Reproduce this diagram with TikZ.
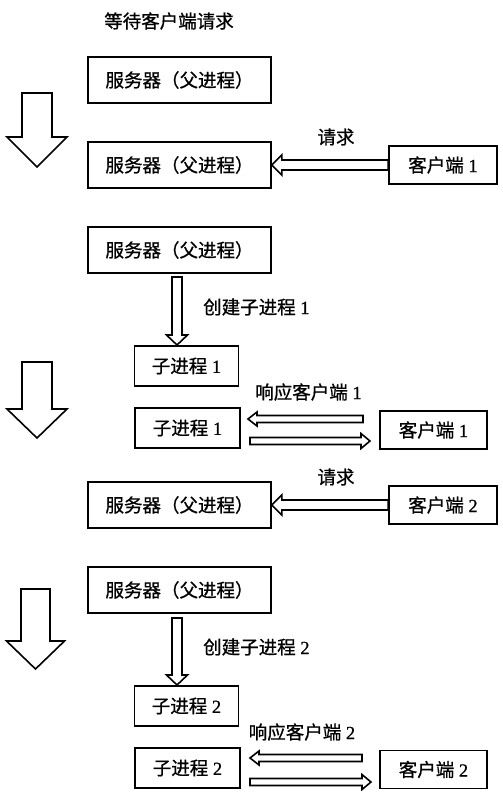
\documentclass[tikz,border=0pt]{standalone}
\usepackage{fontspec}
\setmainfont[FakeBold=0.8]{Liberation Serif}
\newfontfamily\cjk[FakeBold=0.8]{Noto Sans CJK SC}
\usetikzlibrary{calc}
\tikzset{
  txt/.style={inner sep=0pt, font=\fontsize{18.5}{20}\selectfont},
  box/.style={txt, draw, line width=1.7pt, align=center},
  sbox/.style={box, minimum width=183pt, minimum height=46pt},
  kbox/.style={box, minimum width=104pt, minimum height=40pt},
  cbox/.style={box, minimum width=108pt, minimum height=38pt},
  harrow/.style={draw, line width=1.6pt, fill=white, line join=miter},
}
\newcommand\blockarrow[5]{%
  \path ($(#2)!#5!(#1)$) coordinate (ba);
  \draw[harrow] ($(#1)!#3!90:(#2)$) -- ($(ba)!#3!90:(#2)$) -- ($(ba)!#4!90:(#2)$)
    -- (#2) -- ($(ba)!#4!-90:(#2)$) -- ($(ba)!#3!-90:(#2)$) -- ($(#1)!#3!-90:(#2)$) -- cycle;}
\begin{document}
\begin{tikzpicture}[x=1pt, y=-1pt]
\useasboundingbox[fill=white] (0,0) rectangle (503,798);

% title
\node[txt] (title) at (169,21) {\cjk 等待客户端请求};

% section 1
\node[sbox] (S1) at (179.5,80) {\cjk 服务器（父进程）};
\node[sbox] (S2) at (179.5,165) {\cjk 服务器（父进程）};
\node[cbox] (C1) at (443,165) {{\cjk 客户端} 1};
\node[txt] (q1) at (336,137) {\cjk 请求};
\blockarrow{C1.west}{S2.east}{5pt}{10pt}{10pt}
\coordinate (B1s) at (37,93); \coordinate (B1e) at (37,167);
\blockarrow{B1s}{B1e}{15pt}{30pt}{30pt}

% section 2
\node[sbox] (S3) at (179.5,250) {\cjk 服务器（父进程）};
\node[kbox] (K1) at (186.5,366) {{\cjk 子进程} 1};
\coordinate (A1s) at (177,277);
\coordinate (A1e) at (177,345);
\blockarrow{A1s}{A1e}{5pt}{10.5pt}{10pt}
\node[txt, anchor=west] (cr1) at (203,307) {{\cjk 创建子进程} 1};
\coordinate (B2s) at (37,362); \coordinate (B2e) at (37,438);
\blockarrow{B2s}{B2e}{15pt}{30pt}{29pt}
\node[txt] (r1) at (308.5,392) {{\cjk 响应客户端} 1};
\node[kbox, minimum width=105pt] (K1b) at (187.5,428) {{\cjk 子进程} 1};
\node[cbox, minimum width=107pt] (C1b) at (433.5,430) {{\cjk 客户端} 1};
\coordinate (L1s) at (363,419); \coordinate (L1e) at (248,419);
\blockarrow{L1s}{L1e}{3.5pt}{7pt}{9pt}
\coordinate (R1s) at (250,441); \coordinate (R1e) at (370,441);
\blockarrow{R1s}{R1e}{3.5pt}{7.5pt}{9pt}
\node[txt] (q2) at (336,477) {\cjk 请求};
\node[sbox] (S4) at (179.5,505) {\cjk 服务器（父进程）};
\node[cbox] (C2) at (443,505) {{\cjk 客户端} 2};
\blockarrow{C2.west}{S4.east}{5pt}{10pt}{10pt}

% section 3
\node[sbox] (S5) at (179.5,590) {\cjk 服务器（父进程）};
\coordinate (B3s) at (35.5,589); \coordinate (B3e) at (35.5,669);
\blockarrow{B3s}{B3e}{14.5pt}{29pt}{28pt}
\coordinate (A2s) at (177,618);
\coordinate (A2e) at (177,685);
\blockarrow{A2s}{A2e}{5pt}{10.5pt}{10pt}
\node[txt, anchor=west] (cr2) at (203,647) {{\cjk 创建子进程} 2};
\node[kbox] (K2) at (186.5,706) {{\cjk 子进程} 2};
\node[txt] (r2) at (302,732) {{\cjk 响应客户端} 2};
\node[kbox, minimum width=105pt] (K2b) at (187.5,768) {{\cjk 子进程} 2};
\node[cbox, minimum width=107pt] (C2b) at (433.5,769.5) {{\cjk 客户端} 2};
\coordinate (L2s) at (362,758); \coordinate (L2e) at (250,758);
\blockarrow{L2s}{L2e}{3.5pt}{7pt}{9pt}
\coordinate (R2s) at (250,782); \coordinate (R2e) at (371,782);
\blockarrow{R2s}{R2e}{3.5pt}{7.5pt}{9pt}
\end{tikzpicture}
\end{document}
